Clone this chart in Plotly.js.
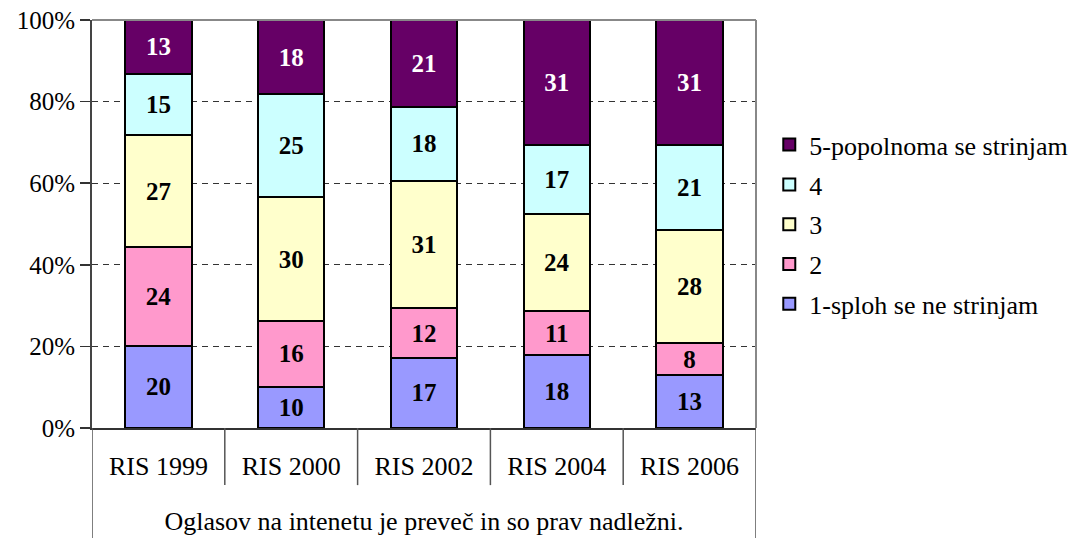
<!DOCTYPE html>
<html>
<head>
<meta charset="utf-8">
<script src="https://cdn.plot.ly/plotly-3.0.1.min.js"></script>
<style>html,body{margin:0;padding:0;background:#fff}#chart{width:1082px;height:538px}</style>
</head>
<body>
<div id="chart"></div>
<script>
const categories = ["RIS 1999", "RIS 2000", "RIS 2002", "RIS 2004", "RIS 2006"];
const groupLabel = "Oglasov na intenetu je preveč in so prav nadležni.";
const seriesNames = ["1-sploh se ne strinjam", "2", "3", "4", "5-popolnoma se strinjam"];
const s1 = [20, 10, 17, 18, 13];
const s2 = [24, 16, 12, 11, 8];
const s3 = [27, 30, 31, 24, 28];
const s4 = [15, 25, 18, 17, 21];
const s5 = [13, 18, 21, 31, 31];
const seriesValues = [s1, s2, s3, s4, s5];
const colors = ["#9999FF", "#FF99CC", "#FFFFCC", "#CCFFFF", "#660066"];
const textColors = ["#000", "#000", "#000", "#000", "#fff"];
const yTicks = [0, 20, 40, 60, 80, 100];

const FONT = "Times New Roman, Liberation Serif, serif";

const traces = seriesValues.map((vals, i) => ({
  type: "bar",
  name: seriesNames[i],
  x: categories,
  y: vals,
  text: vals.map(String),
  textposition: "inside",
  insidetextanchor: "middle",
  textangle: 0,
  constraintext: "none",
  textfont: {family: FONT, size: 25, color: textColors[i], weight: "bold"},
  marker: {color: colors[i], line: {color: "#000", width: 2}},
  width: 0.5,
  legendgroup: "g" + i,
  legendrank: seriesValues.length - i,
  hoverinfo: "name+y"
}));

const shapes = [];
for (let i = 0; i <= categories.length; i++) {
  const isEnd = (i === 0 || i === categories.length);
  shapes.push({
    type: "line", xref: "x", yref: "paper",
    x0: i - 0.5, x1: i - 0.5, y0: 0, y1: isEnd ? -0.27 : -0.14,
    line: {color: "#555", width: 1.5}
  });
}
shapes.push({type: "line", xref: "paper", yref: "paper", x0: 0, x1: 1, y0: 1, y1: 1, line: {color: "#888", width: 2}});
shapes.push({type: "line", xref: "paper", yref: "paper", x0: 1, x1: 1, y0: 0, y1: 1, line: {color: "#888", width: 2}});

const layout = {
  width: 1082, height: 538,
  margin: {l: 92, r: 326, t: 20, b: 110, autoexpand: false},
  paper_bgcolor: "#fff", plot_bgcolor: "#fff",
  barmode: "stack",
  barnorm: "percent",
  font: {family: FONT, size: 26, color: "#000"},
  xaxis: {
    type: "category",
    range: [-0.5, categories.length - 0.5],
    showline: true, linecolor: "#333", linewidth: 2,
    ticks: "", showgrid: false,
    ticklabelstandoff: 14,
    tickfont: {family: FONT, size: 26, color: "#000"},
    title: {text: groupLabel, font: {family: FONT, size: 26, color: "#000"}, standoff: 32}
  },
  yaxis: {
    range: [0, 100],
    tickvals: yTicks,
    ticktext: yTicks.map(v => v + "%"),
    ticks: "outside", ticklen: 10, tickwidth: 1.5, tickcolor: "#333",
    showline: true, linecolor: "#444", linewidth: 2,
    showgrid: true, gridcolor: "#333", gridwidth: 1, griddash: "6px,5px",
    zeroline: false,
    tickfont: {family: FONT, size: 25, color: "#000"}
  },
  legend: {
    x: 1.02, y: 0.752, xanchor: "left", yanchor: "top",
    traceorder: "grouped", tracegroupgap: 3, itemwidth: 30,
    font: {family: FONT, size: 26, color: "#000"},
    bgcolor: "rgba(0,0,0,0)"
  },
  shapes: shapes,
  showlegend: true
};

Plotly.newPlot("chart", traces, layout, {displayModeBar: false, staticPlot: true});
</script>
</body>
</html>
